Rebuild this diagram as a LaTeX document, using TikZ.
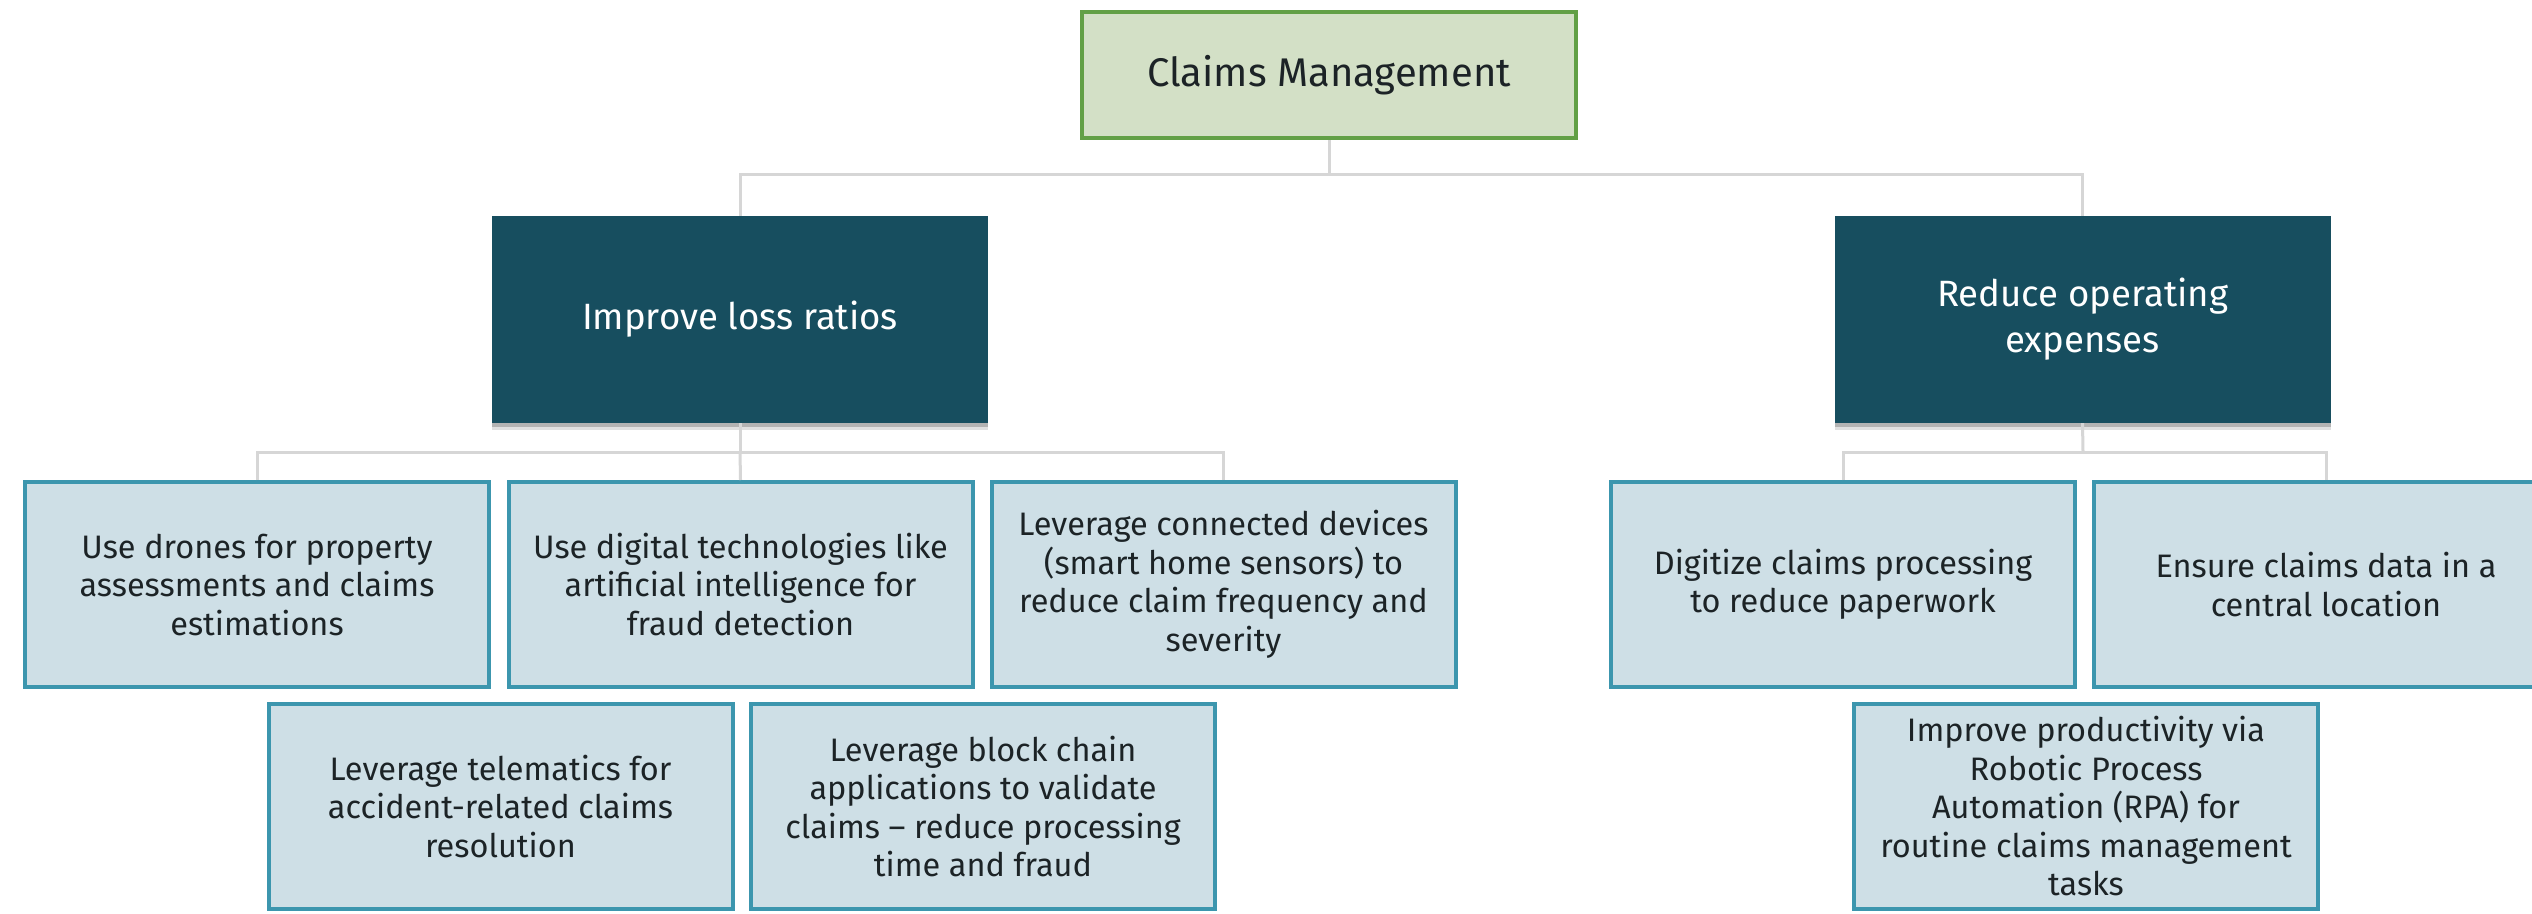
\documentclass[tikz,border=0pt]{standalone}
\usepackage{fontspec}
\setmainfont{Fira Sans}
\usetikzlibrary{shadows}

\definecolor{rootfill}{HTML}{D3E0C6}
\definecolor{rootline}{HTML}{62A046}
\definecolor{goalfill}{HTML}{174E5F}
\definecolor{leaffill}{HTML}{CEDFE6}
\definecolor{leafline}{HTML}{3C96AE}
\definecolor{linkgrey}{HTML}{D6D6D6}
\definecolor{inktext}{HTML}{1C2326}

\tikzset{
  rootbox/.style={rectangle, fill=rootfill, draw=rootline, line width=4pt,
    minimum width=494pt, minimum height=126pt, inner sep=0pt,
    text=inktext, font=\fontsize{40}{46}\selectfont},
  goalbox/.style={rectangle, fill=goalfill, draw=none,
    minimum width=496pt, minimum height=207pt, inner sep=0pt,
    text=white, align=center, font=\fontsize{36.6}{46}\selectfont,
    drop shadow={shadow xshift=0pt, shadow yshift=-7pt, fill=black, opacity=0.12},
    drop shadow={shadow xshift=0pt, shadow yshift=-4pt, fill=black, opacity=0.2}},
  leafbox/.style={rectangle, fill=leaffill, draw=leafline, line width=4pt,
    minimum width=464pt, minimum height=205pt, inner sep=0pt,
    text=inktext, align=center, font=\fontsize{32.5}{38.5}\selectfont},
  link/.style={draw=linkgrey, line width=3pt}
}

\begin{document}
\begin{tikzpicture}[x=1pt, y=-1pt]
  \useasboundingbox (0,0) rectangle (2532,913);
  \clip (0,0) rectangle (2532,913);
  \fill[white] (0,0) rectangle (2532,913);

  % junction points of the tree connectors
  \coordinate (topbar) at (1329,174);
  \coordinate (lbar) at (740,452);
  \coordinate (rbar) at (2083,452);

  % root
  \node[rootbox] (root) at (1329,75) {Claims Management};

  % second level
  \node[goalbox] (loss) at (740,319.5) {Improve loss ratios};
  \node[goalbox] (opex) at (2082.5,319.5) {Reduce operating\\expenses};

  % third level, first row
  \node[leafbox] (drones) at (257,584.5) {Use drones for property\\assessments and claims\\estimations};
  \node[leafbox] (ai) at (740.5,584.5) {Use digital technologies like\\artificial intelligence for\\fraud detection};
  \node[leafbox] (iot) at (1223.5,584.5) {Leverage connected devices\\(smart home sensors) to\\reduce claim frequency and\\severity};
  \node[leafbox] (digit) at (1843,584.5) {Digitize claims processing\\to reduce paperwork};
  \node[leafbox] (central) at (2326,584.5) {Ensure claims data in a\\central location};

  % third level, second row
  \node[leafbox] (telem) at (500.5,806.5) {Leverage telematics for\\accident-related claims\\resolution};
  \node[leafbox] (chain) at (983,806.5) {Leverage block chain\\applications to validate\\claims – reduce processing\\time and fraud};
  \node[leafbox] (rpa) at (2086,806.5) {Improve productivity via\\Robotic Process\\Automation (RPA) for\\routine claims management\\tasks};

  % tree connectors
  \draw[link] (root.south) -- (topbar);
  \draw[link] (loss.north) |- (topbar) -| (opex.north);

  \draw[link] (loss.south) -- (lbar);
  \draw[link] (drones.north) |- (lbar) -| (iot.north);
  \draw[link] (lbar) -- (ai.north);

  \draw[link] (opex.south) -- (rbar);
  \draw[link] (digit.north) |- (rbar) -| (central.north);
\end{tikzpicture}
\end{document}
